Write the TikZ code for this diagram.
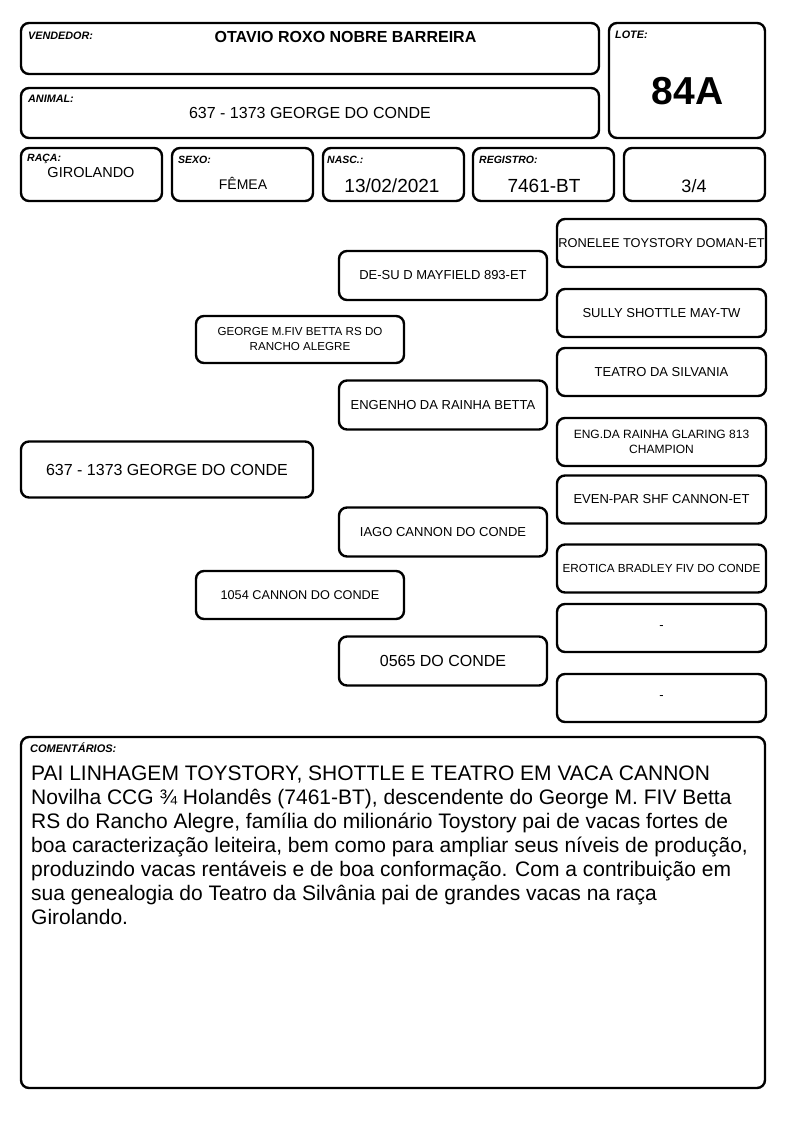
\documentclass[tikz,border=0pt]{standalone}
\usepackage{fontspec}
\setmainfont{Liberation Sans}
\newcommand\fsz[2]{\fontsize{#1}{#2}\selectfont}
\begin{document}
\begin{tikzpicture}[x=1pt,y=-1pt,
  box/.style={draw, line width=2.4pt, rounded corners=8pt, inner sep=0pt, align=center},
  lbl/.style={anchor=base west, inner sep=0pt, font=\fsz{10.8}{12}\bfseries\itshape},
  slbl/.style={anchor=base west, inner sep=0pt, font=\fsz{10.5}{12}\bfseries\itshape},
  val/.style={anchor=base, inner sep=0pt},
  rcol/.style={box, minimum width=209, minimum height=48},
  mcol/.style={box, minimum width=208, minimum height=49},
  lcol/.style={box, minimum width=208, minimum height=48},
  ped/.style={font=\fsz{13}{15}},
  peds/.style={font=\fsz{12}{15}}
]
\useasboundingbox (0,0) rectangle (794,1123);
% header boxes
\node[box, minimum width=578, minimum height=51] (vend) at (310,48.5) {};
\node[box, minimum width=156, minimum height=115] (lote) at (687,80.5) {};
\node[box, minimum width=578, minimum height=50] (anim) at (310,113) {};
\node[box, minimum width=141, minimum height=53] (raca) at (91.5,174.5) {};
\node[box, minimum width=141, minimum height=53] (sexo) at (242.5,174.5) {};
\node[box, minimum width=141, minimum height=53] (nasc) at (393.5,174.5) {};
\node[box, minimum width=141, minimum height=53] (reg) at (543.5,174.5) {};
\node[box, minimum width=141, minimum height=53] (frac) at (694.5,174.5) {};
% labels
\node[lbl] (vendl) at (28,39.5) {VENDEDOR:};
\node[val, font=\fsz{16}{19}\bfseries] (vendv) at (345.5,43) {OTAVIO ROXO NOBRE BARREIRA};
\node[lbl] (animl) at (28,103) {ANIMAL:};
\node[val, font=\fsz{16}{19}] (animv) at (310,119) {637 - 1373 GEORGE DO CONDE};
\node[lbl] (lotel) at (615,39) {LOTE:};
\node[val, font=\fsz{39}{44}\bfseries] (lotev) at (687.5,105) {84A};
\node[slbl] (racal) at (27,162) {RAÇA:};
\node[val, font=\fsz{14.5}{17}] (racav) at (91,178) {GIROLANDO};
\node[slbl] (sexol) at (178,164) {SEXO:};
\node[val, font=\fsz{14}{17}] (sexov) at (243,190) {FÊMEA};
\node[slbl] (nascl) at (327,164) {NASC.:};
\node[val, font=\fsz{19}{22}] (nascv) at (392,193) {13/02/2021};
\node[slbl] (regl) at (479,164) {REGISTRO:};
\node[val, font=\fsz{19}{22}] (regv) at (544,193) {7461-BT};
\node[val, font=\fsz{18}{22}] (fracv) at (694,193) {3/4};
% pedigree
\node[rcol, font=\fsz{12.8}{15}] (p1) at (661.5,243) {RONELEE TOYSTORY DOMAN-ET};
\node[mcol, ped] (s1) at (443,275.5) {DE-SU D MAYFIELD 893-ET};
\node[rcol, ped] (p2) at (661.5,313) {SULLY SHOTTLE MAY-TW};
\node[lcol, font=\fsz{11.6}{15}, minimum height=47] (g1) at (300,339.5) {GEORGE M.FIV BETTA RS DO\\RANCHO ALEGRE};
\node[rcol, ped] (p3) at (661.5,372) {TEATRO DA SILVANIA};
\node[mcol, ped] (s2) at (443,405) {ENGENHO DA RAINHA BETTA};
\node[rcol, peds] (p4) at (661.5,442) {ENG.DA RAINHA GLARING 813\\CHAMPION};
\node[box, minimum width=292, minimum height=56, font=\fsz{16}{19}] (main) at (167,469.5) {637 - 1373 GEORGE DO CONDE};
\node[rcol, ped] (p5) at (661.5,499.5) {EVEN-PAR SHF CANNON-ET};
\node[mcol, ped] (s3) at (443,532) {IAGO CANNON DO CONDE};
\node[rcol, font=\fsz{11.7}{15}] (p6) at (661.5,568.5) {EROTICA BRADLEY FIV DO CONDE};
\node[lcol, font=\fsz{12.7}{15}] (g2) at (300,595) {1054 CANNON DO CONDE};
\node[rcol, ped] (p7) at (661.5,628) {-};
\node[mcol, font=\fsz{16}{19}] (s4) at (443,661) {0565 DO CONDE};
\node[rcol, ped] (p8) at (661.5,698) {-};
% comments
\node[box, minimum width=744, minimum height=351] (com) at (393,912.5) {};
\node[slbl, font=\fsz{11}{12}\bfseries\itshape] (coml) at (30,752) {COMENTÁRIOS:};
\node[anchor=north west, inner sep=0pt, align=left, font=\fsz{21}{24}] (comt) at (31,766) {PAI LINHAGEM TOYSTORY, SHOTTLE E TEATRO EM VACA CANNON\\
Novilha CCG ¾ Holandês (7461-BT), descendente do George M. FIV Betta\\
RS do Rancho Alegre, família do milionário Toystory pai de vacas fortes de\\
boa caracterização leiteira, bem como para ampliar seus níveis de produção,\\
produzindo vacas rentáveis e de boa conformação. Com a contribuição em\\
sua genealogia do Teatro da Silvânia pai de grandes vacas na raça\\
Girolando.};
\end{tikzpicture}
\end{document}
